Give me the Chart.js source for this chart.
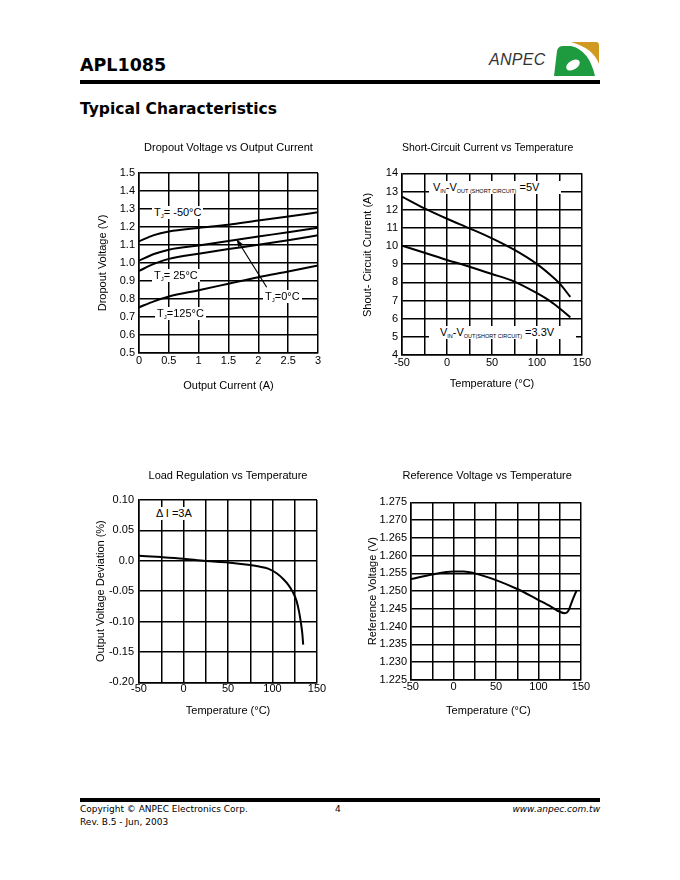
<!DOCTYPE html>
<html>
<head>
<meta charset="utf-8">
<script src="https://cdn.jsdelivr.net/npm/chart.js@4.4.0/dist/chart.umd.min.js"></script>
<style>
  body { margin: 0; width: 680px; height: 880px; background: #fff; position: relative; overflow: hidden;
         font-family: 'Liberation Sans', Arial, sans-serif; color: #000; }
  .abs { position: absolute; }
  .rule { position: absolute; background: #000; }
  .hdr { position: absolute; font-family: 'DejaVu Sans', Verdana, sans-serif; font-weight: bold; white-space: nowrap; }
  .foot { position: absolute; font-family: 'DejaVu Sans', Verdana, sans-serif; font-size: 9px; line-height: 12px; white-space: nowrap; }
  .note { position: absolute; background: #fff; font-size: 11px; line-height: 13px; padding: 0 2px; white-space: nowrap; }
  .note sub { font-size: 6px; vertical-align: -2px; line-height: 0; }
  .note .small sub { font-size: 5.5px; }
  .box { position: absolute; }
</style>
</head>
<body>

<!-- page header -->
<div class="hdr" style="left:80px; top:57px; font-size:17.5px; line-height:17.5px;">APL1085</div>
<div class="abs" style="left:489px; top:52px; font-size:16px; line-height:16px; font-style:italic; color:#333; letter-spacing:0.3px;">ANPEC</div>
<svg class="abs" style="left:552px; top:41px;" width="48" height="37" viewBox="0 0 48 37">
  <path d="M19,1 L44,1 Q47,1 47,4 L47,23 Q41,7 19,1 Z" fill="#d09a22"/>
  <path d="M2,35 L5,10 Q6,5 11,5 L19,5 Q37,9 43,35 Z" fill="#1f9b3f"/>
  <ellipse cx="21" cy="24" rx="7.5" ry="4.5" transform="rotate(-32 21 24)" fill="#fff"/>
</svg>
<div class="rule" style="left:80px; top:80px; width:520px; height:4px;"></div>
<div class="hdr" style="left:80px; top:102px; font-size:15.5px; line-height:15.5px;">Typical Characteristics</div>

<!-- charts -->
<div class="box" style="left:80px; top:135px; width:260px; height:265px;"><canvas id="dropChart" width="260" height="265"></canvas></div>
<div class="box" style="left:350px; top:135px; width:260px; height:265px;"><canvas id="scChart" width="260" height="265"></canvas></div>
<div class="box" style="left:80px; top:460px; width:260px; height:265px;"><canvas id="lrChart" width="260" height="265"></canvas></div>
<div class="box" style="left:350px; top:460px; width:260px; height:265px;"><canvas id="rvChart" width="260" height="265"></canvas></div>

<!-- curve labels -->
<div class="note" style="left:152px; top:206px;">T<sub>J</sub>= -50°C</div>
<div class="note" style="left:152px; top:269px;">T<sub>J</sub>= 25°C</div>
<div class="note" style="left:155px; top:307px;">T<sub>J</sub>=125°C</div>
<div class="note" style="left:263px; top:290px;">T<sub>J</sub>=0°C</div>
<div class="note" style="left:429px; top:181px; padding:0 22px 0 4px;"><span class="small">V<sub>IN</sub>-V<sub>OUT (SHORT CIRCUIT)</sub> =5V</span></div>
<div class="note" style="left:429px; top:326px; padding:0 22px 0 11px;"><span class="small">V<sub>IN</sub>-V<sub>OUT(SHORT CIRCUIT)</sub> =3.3V</span></div>
<div class="note" style="left:154px; top:507px;">Δ I =3A</div>

<!-- page footer -->
<div class="rule" style="left:80px; top:798px; width:520px; height:4px;"></div>
<div class="foot" style="left:80px; top:803px;">Copyright © ANPEC Electronics Corp.</div>
<div class="foot" style="left:335px; top:803px;">4</div>
<div class="foot" style="right:80px; top:803px; font-style:italic;">www.anpec.com.tw</div>
<div class="foot" style="left:80px; top:816px;">Rev. B.5 - Jun, 2003</div>

<script>
// Dropout Voltage vs Output Current
const currentA = [0, 0.25, 0.5, 1, 1.5, 2, 2.5, 3];
const dropM50 = [1.12, 1.155, 1.175, 1.195, 1.212, 1.236, 1.258, 1.282];
const drop0 = [1.013, 1.05, 1.074, 1.097, 1.122, 1.147, 1.171, 1.196];
const drop25 = [0.956, 0.995, 1.023, 1.052, 1.078, 1.101, 1.127, 1.154];
const drop125 = [0.754, 0.787, 0.814, 0.849, 0.885, 0.921, 0.953, 0.986];
const dropXTicks = [0, 0.5, 1, 1.5, 2, 2.5, 3];
const dropXLabels = ['0', '0.5', '1', '1.5', '2', '2.5', '3'];
const dropYTicks = [0.5, 0.6, 0.7, 0.8, 0.9, 1.0, 1.1, 1.2, 1.3, 1.4, 1.5];
const dropYLabels = ['0.5', '0.6', '0.7', '0.8', '0.9', '1.0', '1.1', '1.2', '1.3', '1.4', '1.5'];
const arrowTail = [2.14, 0.865];
const arrowHead = [1.637, 1.132];

// Short-Circuit Current vs Temperature
const tempSC = [-50, -25, 0, 25, 50, 75, 100, 115, 125, 137];
const sc5V = [12.72, 12.07, 11.5, 10.97, 10.42, 9.78, 9.0, 8.4, 7.94, 7.2];
const sc3V3 = [10.02, 9.63, 9.23, 8.86, 8.46, 8.04, 7.4, 6.95, 6.57, 6.07];
const scYTicks = [4, 5, 6, 7, 8, 9, 10, 11, 12, 13, 14];
const scYLabels = ['4', '5', '6', '7', '8', '9', '10', '11', '12', '13', '14'];

// Load Regulation vs Temperature
const tempLR = [-50, -25, 0, 25, 50, 75, 85, 95, 105, 112, 118, 123, 127, 130, 132, 133.5, 134.5];
const loadReg = [0.0082, 0.006, 0.0033, -0.0005, -0.0027, -0.007, -0.0095, -0.013, -0.021, -0.030, -0.040, -0.052, -0.066, -0.085, -0.103, -0.12, -0.138];
const lrYTicks = [-0.2, -0.15, -0.1, -0.05, 0, 0.05, 0.1];
const lrYLabels = ['-0.20', '-0.15', '-0.10', '-0.05', '0.0', '0.05', '0.10'];

// Reference Voltage vs Temperature
const tempRV = [-50, -25, 0, 12, 25, 50, 75, 100, 115, 125, 131, 135, 140, 145];
const refV = [1.2534, 1.2547, 1.2555, 1.2555, 1.255, 1.2531, 1.2506, 1.2475, 1.2456, 1.2442, 1.2438, 1.2444, 1.2475, 1.2503];
const rvYTicks = [1.225, 1.23, 1.235, 1.24, 1.245, 1.25, 1.255, 1.26, 1.265, 1.27, 1.275];
const rvYLabels = ['1.225', '1.230', '1.235', '1.240', '1.245', '1.250', '1.255', '1.260', '1.265', '1.270', '1.275'];

// temperature axis shared by three charts, grid every 25
const tempTicks = [-50, -25, 0, 25, 50, 75, 100, 125, 150];
const tempLabels = ['-50', '', '0', '', '50', '', '100', '', '150'];

Chart.defaults.font.family = "'Liberation Sans', Arial, sans-serif";
Chart.defaults.font.size = 11;
Chart.defaults.color = '#000';

const curve = (xs, ys) => ({
    data: xs.map((x, i) => ({ x: x, y: ys[i] })),
    borderColor: '#000',
    borderWidth: 2,
    pointRadius: 0,
    fill: false,
    cubicInterpolationMode: 'monotone'
});

const axis = (o) => ({
    type: 'linear',
    position: o.pos,
    min: o.ticks[0],
    max: o.ticks[o.ticks.length - 1],
    afterBuildTicks: a => { a.ticks = o.ticks.map(v => ({ value: v })); },
    afterFit: a => { if (o.pos === 'left') a.width = o.size; else a.height = o.size; },
    grid: { color: '#000', lineWidth: 1.5, drawTicks: false },
    border: { color: '#000', width: 1.5 },
    ticks: { autoSkip: false, maxRotation: 0, padding: o.tickPad, callback: (v, i) => o.labels[i] },
    title: { display: true, text: o.title, padding: o.pos === 'left' ? { top: o.titlePad, bottom: 0 } : { top: 0, bottom: o.titlePad } }
});

// Arrow pointing at the 0°C curve
const arrowPlugin = {
    id: 'arrow',
    afterDatasetsDraw(chart) {
        const { ctx, scales: { x, y } } = chart;
        const x1 = x.getPixelForValue(arrowTail[0]), y1 = y.getPixelForValue(arrowTail[1]);
        const x2 = x.getPixelForValue(arrowHead[0]), y2 = y.getPixelForValue(arrowHead[1]);
        const ang = Math.atan2(y2 - y1, x2 - x1);
        ctx.save();
        ctx.strokeStyle = '#000';
        ctx.fillStyle = '#000';
        ctx.lineWidth = 1.2;
        ctx.beginPath(); ctx.moveTo(x1, y1); ctx.lineTo(x2, y2); ctx.stroke();
        ctx.beginPath();
        ctx.moveTo(x2, y2);
        ctx.lineTo(x2 - 8 * Math.cos(ang - 0.35), y2 - 8 * Math.sin(ang - 0.35));
        ctx.lineTo(x2 - 8 * Math.cos(ang + 0.35), y2 - 8 * Math.sin(ang + 0.35));
        ctx.closePath(); ctx.fill();
        ctx.restore();
    }
};

function makeChart(id, o) {
    return new Chart(document.getElementById(id), {
        type: 'line',
        data: { datasets: o.datasets },
        options: {
            responsive: false,
            animation: false,
            devicePixelRatio: 1,
            layout: { padding: { left: 0, right: o.padRight, top: 0, bottom: 0 } },
            plugins: {
                legend: { display: false },
                tooltip: { enabled: false },
                title: {
                    display: true, text: o.title,
                    fullSize: o.titleFull || false,
                    align: o.titleAlign || 'center',
                    font: { size: 11, weight: 'normal' },
                    padding: { top: o.titleTop, bottom: o.titleBottom }
                }
            },
            scales: { x: axis(o.x), y: axis(o.y) }
        },
        plugins: o.plugins || []
    });
}

makeChart('dropChart', {
    title: 'Dropout Voltage vs Output Current', titleTop: 6.4, titleBottom: 18.4, padRight: 22,
    datasets: [curve(currentA, dropM50), curve(currentA, drop0), curve(currentA, drop25), curve(currentA, drop125)],
    x: { pos: 'bottom', ticks: dropXTicks, labels: dropXLabels, title: 'Output Current (A)', titlePad: 7.4, size: 47, tickPad: 1 },
    y: { pos: 'left', ticks: dropYTicks, labels: dropYLabels, title: 'Dropout Voltage (V)', titlePad: 16, size: 59, tickPad: 4 },
    plugins: [arrowPlugin]
});

// trailing spaces nudge the titles left, as in the original layout
makeChart('scChart', {
    title: 'Short-Circuit Current vs Temperature   ', titleTop: 6.7, titleBottom: 18.4, padRight: 28,
    datasets: [curve(tempSC, sc5V), curve(tempSC, sc3V3)],
    x: { pos: 'bottom', ticks: tempTicks, labels: tempLabels, title: 'Temperature (°C)', titlePad: 9, size: 45, tickPad: 1 },
    y: { pos: 'left', ticks: scYTicks, labels: scYLabels, title: '      Shout- Circuit Current (A)', titlePad: 11.4, size: 52, tickPad: 4 }
});

makeChart('lrChart', {
    title: 'Load Regulation vs Temperature', titleTop: 9.1, titleBottom: 17.7, padRight: 23,
    datasets: [curve(tempLR, loadReg)],
    x: { pos: 'bottom', ticks: tempTicks, labels: tempLabels, title: 'Temperature (°C)', titlePad: 7.7, size: 42.7, tickPad: 0 },
    y: { pos: 'left', ticks: lrYTicks, labels: lrYLabels, title: 'Output Voltage Deviation (%)', titlePad: 14, size: 59, tickPad: 5 }
});

makeChart('rvChart', {
    title: 'Reference Voltage vs Temperature   ', titleFull: true, titleAlign: 'end',
    titleTop: 9.1, titleBottom: 20, padRight: 29,
    datasets: [curve(tempRV, refV)],
    x: { pos: 'bottom', ticks: tempTicks, labels: tempLabels, title: 'Temperature (°C)     ', titlePad: 7.7, size: 45, tickPad: 0 },
    y: { pos: 'left', ticks: rvYTicks, labels: rvYLabels, title: 'Reference Voltage (V)', titlePad: 16.4, size: 61, tickPad: 4 }
});
</script>
</body>
</html>
